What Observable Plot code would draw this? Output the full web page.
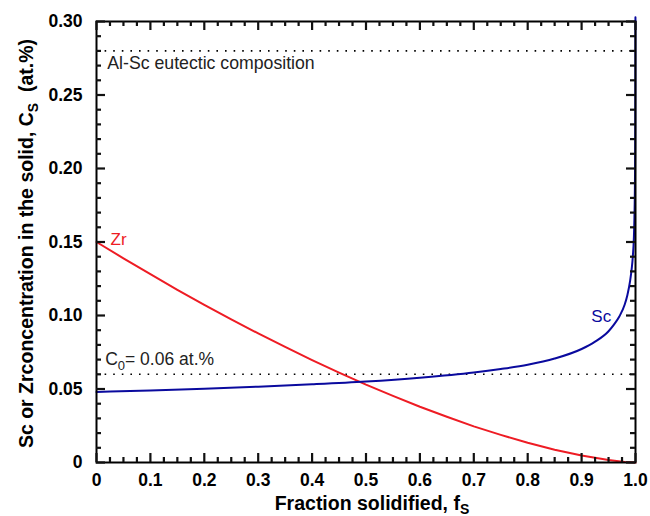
<!DOCTYPE html>
<html>
<head>
<meta charset="utf-8">
<script src="https://cdn.jsdelivr.net/npm/d3@7"></script>
<script src="https://cdn.jsdelivr.net/npm/@observablehq/plot@0.6"></script>
<style>
  html, body { margin: 0; padding: 0; background: #fff; }
  #chart { width: 650px; height: 516px; }
</style>
</head>
<body>
<div id="chart"></div>
<script>
// Fraction solidified values and concentrations
const scFs = [0, 0.1, 0.2, 0.3, 0.4, 0.5, 0.6, 0.7, 0.75, 0.8, 0.85, 0.9, 0.925, 0.95, 0.96, 0.97, 0.98, 0.985, 0.99, 0.993, 0.995, 0.997, 0.998, 0.999, 0.9995, 0.9998, 0.9999];
const scCs = [0.0480, 0.0490, 0.0502, 0.0516, 0.0532, 0.0551, 0.0577, 0.0612, 0.0636, 0.0665, 0.0707, 0.0772, 0.0822, 0.0893, 0.0938, 0.0993, 0.1075, 0.1140, 0.1235, 0.1320, 0.1400, 0.1530, 0.1664, 0.1911, 0.2195, 0.2637, 0.3029];

const zrFs = [0, 0.05, 0.1, 0.15, 0.2, 0.25, 0.3, 0.35, 0.4, 0.45, 0.5, 0.55, 0.6, 0.65, 0.7, 0.75, 0.8, 0.85, 0.9, 0.95, 0.98, 1.0];
const zrCs = [0.1500, 0.1389, 0.1281, 0.1175, 0.1073, 0.0974, 0.0878, 0.0786, 0.0697, 0.0612, 0.0530, 0.0453, 0.0379, 0.0311, 0.0246, 0.0188, 0.0134, 0.0087, 0.0047, 0.0017, 0.0004, 0.0];

const xTickValues = [0, 0.1, 0.2, 0.3, 0.4, 0.5, 0.6, 0.7, 0.8, 0.9, 1.0];
const xTickLabels = ["0", "0.1", "0.2", "0.3", "0.4", "0.5", "0.6", "0.7", "0.8", "0.9", "1.0"];
const yTickValues = [0, 0.05, 0.10, 0.15, 0.20, 0.25, 0.30];
const yTickLabels = ["0", "0.05", "0.10", "0.15", "0.20", "0.25", "0.30"];
const xMinorTicks = [0.025, 0.05, 0.075, 0.125, 0.15, 0.175, 0.225, 0.25, 0.275, 0.325, 0.35, 0.375, 0.425, 0.45, 0.475, 0.525, 0.55, 0.575, 0.625, 0.65, 0.675, 0.725, 0.75, 0.775, 0.825, 0.85, 0.875, 0.925, 0.95, 0.975];
const yMinorTicks = [0.01, 0.02, 0.03, 0.04, 0.06, 0.07, 0.08, 0.09, 0.11, 0.12, 0.13, 0.14, 0.16, 0.17, 0.18, 0.19, 0.21, 0.22, 0.23, 0.24, 0.26, 0.27, 0.28, 0.29];

const refLevels = [0.28, 0.06];

const scData = scFs.map((f, i) => ({f, c: scCs[i]}));
const zrData = zrFs.map((f, i) => ({f, c: zrCs[i]}));

const W = 650, H = 516;
const mL = 96, mR = 15, mT = 21, mB = 54;
const pw = W - mL - mR, ph = H - mT - mB;
const FONT = "'Liberation Sans', Arial, Helvetica, sans-serif";
const RED = "#ee1c24", BLUE = "#0a0a9e";
const majorLen = 9, minorLen = 5;
const tk = {stroke: "#111", strokeWidth: 2.2};

const plot = Plot.plot({
  width: W, height: H,
  marginLeft: mL, marginRight: mR, marginTop: mT, marginBottom: mB,
  style: {fontFamily: FONT, fontSize: "17.5px"},
  x: {domain: [0, 1]},
  y: {domain: [0, 0.30]},
  marks: [
    Plot.ruleY(refLevels, {stroke: "black", strokeWidth: 1.6, strokeDasharray: "1.6,7"}),
    Plot.line(zrData, {x: "f", y: "c", stroke: RED, strokeWidth: 2}),
    Plot.line(scData, {x: "f", y: "c", stroke: BLUE, strokeWidth: 2, curve: "monotone-x"}),
    Plot.frame({stroke: "black", strokeWidth: 2}),
    // inward ticks: bottom / top
    Plot.tickX(xTickValues, {x: d => d, insetTop: ph - majorLen, ...tk}),
    Plot.tickX(xMinorTicks, {x: d => d, insetTop: ph - minorLen, ...tk}),
    Plot.tickX(xTickValues, {x: d => d, insetBottom: ph - majorLen, ...tk}),
    Plot.tickX(xMinorTicks, {x: d => d, insetBottom: ph - minorLen, ...tk}),
    // inward ticks: left / right
    Plot.tickY(yTickValues, {y: d => d, insetRight: pw - majorLen, ...tk}),
    Plot.tickY(yMinorTicks, {y: d => d, insetRight: pw - minorLen, ...tk}),
    Plot.tickY(yTickValues, {y: d => d, insetLeft: pw - majorLen, ...tk}),
    Plot.tickY(yMinorTicks, {y: d => d, insetLeft: pw - minorLen, ...tk}),
    // tick labels
    Plot.axisX(xTickValues, {anchor: "bottom", tickSize: 0, tickPadding: 11, label: null,
      tickFormat: (d, i) => xTickLabels[i], fontWeight: "bold", fontSize: 17.5}),
    Plot.axisY(yTickValues, {anchor: "left", tickSize: 0, tickPadding: 14, label: null,
      tickFormat: (d, i) => yTickLabels[i], fontWeight: "bold", fontSize: 17.5}),
    // annotations
    Plot.text(["Al-Sc eutectic composition"], {x: 0.02, y: 0.268, text: d => d, textAnchor: "start", lineAnchor: "bottom", fontSize: 17.7, fill: "#222"}),
    Plot.text(["Zr"], {x: 0.026, y: 0.148, text: d => d, textAnchor: "start", lineAnchor: "bottom", fontSize: 17, fill: RED}),
    Plot.text(["Sc"], {x: 0.918, y: 0.0955, text: d => d, textAnchor: "start", lineAnchor: "bottom", fontSize: 17, fill: BLUE})
  ]
});

const svg = d3.select(plot);
const sx = plot.scale("x"), sy = plot.scale("y");

// C0 annotation with subscript
const c0 = svg.append("text")
  .attr("x", sx.apply(0.017)).attr("y", sy.apply(0.066))
  .attr("text-anchor", "start")
  .attr("font-family", FONT).attr("font-size", 17.5).attr("fill", "#222");
c0.append("tspan").text("C");
c0.append("tspan").attr("font-size", 13).attr("dy", 5).text("0");
c0.append("tspan").attr("dy", -5).text("= 0.06 at.%");

// x axis title
const xt = svg.append("text")
  .attr("x", 372).attr("y", 510)
  .attr("text-anchor", "middle")
  .attr("font-family", FONT).attr("font-size", 19.5).attr("font-weight", "bold").attr("fill", "#000");
xt.append("tspan").text("Fraction solidified, f");
xt.append("tspan").attr("font-size", 14).attr("dy", 4).text("S");

// y axis title
const yt = svg.append("text")
  .attr("transform", `translate(33,${mT + ph / 2 + 2}) rotate(-90)`)
  .attr("text-anchor", "middle")
  .attr("font-family", FONT).attr("font-size", 19.5).attr("font-weight", "bold").attr("fill", "#000");
yt.append("tspan").text("Sc or Zrconcentration in the solid, C");
yt.append("tspan").attr("font-size", 14).attr("dy", 5).text("S");
yt.append("tspan").attr("dy", -5).text("  (at.%)");

document.getElementById("chart").appendChild(plot);
</script>
</body>
</html>
